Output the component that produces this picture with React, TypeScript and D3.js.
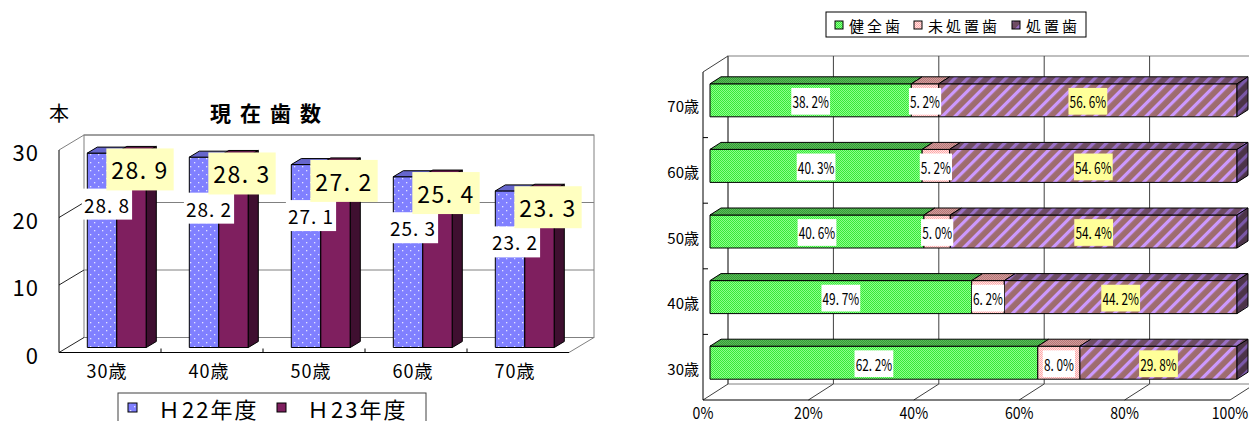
import React, { useEffect, useRef } from "react";
import * as d3 from "d3";

// ---- Left chart data (現在歯数) ----
const leftCategories = ["30歳", "40歳", "50歳", "60歳", "70歳"];
const seriesNames = ["Ｈ22年度", "Ｈ23年度"];
const h22Values = [28.8, 28.2, 27.1, 25.3, 23.2];
const h23Values = [28.9, 28.3, 27.2, 25.4, 23.3];
const leftTicks = [0, 10, 20, 30];

// ---- Right chart data (100% stacked) ----
const rightCategories = ["70歳", "60歳", "50歳", "40歳", "30歳"];
const stackNames = ["健全歯", "未処置歯", "処置歯"];
const healthyValues = [38.2, 40.3, 40.6, 49.7, 62.2];
const untreatedValues = [5.2, 5.2, 5.0, 6.2, 8.0];
const treatedValues = [56.6, 54.6, 54.4, 44.2, 29.8];
const pctTicks = [0, 20, 40, 60, 80, 100];

const FONT = "'Noto Sans CJK JP', 'Noto Sans', sans-serif";

function fmt(v: number) {
  return v.toFixed(1).replace(".", ". ");
}

export default function App() {
  const ref = useRef<SVGSVGElement>(null);

  useEffect(() => {
    const svg = d3.select(ref.current!);
    svg.selectAll("*").remove();
    const defs = svg.append("defs");

    const checker = (id: string, base: string, dot: string) => {
      const p = defs.append("pattern").attr("id", id).attr("width", 2).attr("height", 2).attr("patternUnits", "userSpaceOnUse");
      p.append("rect").attr("width", 2).attr("height", 2).attr("fill", base);
      p.append("rect").attr("width", 1).attr("height", 1).attr("fill", dot);
      p.append("rect").attr("x", 1).attr("y", 1).attr("width", 1).attr("height", 1).attr("fill", dot);
    };
    const stripes = (id: string, base: string, stripe: string) => {
      const p = defs.append("pattern").attr("id", id).attr("width", 9).attr("height", 9)
        .attr("patternUnits", "userSpaceOnUse").attr("patternTransform", "rotate(45)");
      p.append("rect").attr("width", 9).attr("height", 9).attr("fill", base);
      p.append("rect").attr("width", 3.2).attr("height", 9).attr("fill", stripe);
    };
    const dots = (id: string, base: string, dot: string) => {
      const p = defs.append("pattern").attr("id", id).attr("width", 8).attr("height", 8).attr("patternUnits", "userSpaceOnUse");
      p.append("rect").attr("width", 8).attr("height", 8).attr("fill", base);
      p.append("rect").attr("x", 2).attr("y", 2).attr("width", 1.3).attr("height", 1.3).attr("fill", dot);
      p.append("rect").attr("x", 6).attr("y", 6).attr("width", 1.3).attr("height", 1.3).attr("fill", dot);
    };
    checker("gFront", "#8CFF8C", "#38E838");
    checker("gTop", "#58C058", "#389838");
    checker("pFront", "#FFE4E4", "#FFA8A8");
    checker("pTop", "#D49C9C", "#B47878");
    stripes("tFront", "#9E6C6E", "#CC99FF");
    stripes("tTop", "#6E4C62", "#9A70C8");
    stripes("tSide", "#4C3448", "#7A58A8");
    dots("bFront", "#8080FF", "#E4E4FF");

    const addLabel = (
      parent: d3.Selection<any, unknown, null, undefined>,
      x: number, y: number, text: string, size: number, bg: string,
      padX: number, padY: number, sx = 1, ls = 0
    ) => {
      const g = parent.append("g").attr("transform", `translate(${x},${y}) scale(${sx},1)`);
      const r = g.append("rect").attr("fill", bg);
      const t = g.append("text").attr("x", 0).attr("y", 0).attr("text-anchor", "middle")
        .attr("dominant-baseline", "central").attr("font-family", FONT).attr("font-size", size)
        .attr("letter-spacing", ls).style("white-space", "pre")
        .attr("fill", "#000").text(text);
      const bb = (t.node() as SVGTextElement).getBBox();
      r.attr("x", bb.x - padX).attr("y", bb.y - padY + 1).attr("width", bb.width + 2 * padX).attr("height", bb.height + 2 * padY - 2);
    };

    const poly = (parent: any, pts: number[][], fill: string, stroke = "#000") =>
      parent.append("polygon").attr("points", pts.map((p) => p.join(",")).join(" "))
        .attr("fill", fill).attr("stroke", stroke).attr("stroke-width", 1).attr("stroke-linejoin", "round");
    const line = (parent: any, x1: number, y1: number, x2: number, y2: number, stroke: string) =>
      parent.append("line").attr("x1", x1).attr("y1", y1).attr("x2", x2).attr("y2", y2)
        .attr("stroke", stroke).attr("stroke-width", 1);

    // ================= LEFT CHART =================
    const L = svg.append("g");
    const xL = d3.scaleBand<string>().domain(leftCategories).range([59, 569]);
    const yL = d3.scaleLinear().domain([0, 30]).range([352.5, 150]);
    const DL = { x: 25, y: -15 };
    const BF = { x: 8.3, y: -5 };
    const BD = { x: 10, y: -6 };
    const groupW = 59;
    const xInner = d3.scaleBand<string>().domain(seriesNames).range([0, groupW]);
    const x0 = xL.range()[0], x1 = xL.range()[1];
    const y0 = yL(0), yTop = yL(30);

    // back wall
    L.append("rect").attr("x", x0 + DL.x).attr("y", yTop + DL.y).attr("width", x1 - x0).attr("height", y0 - yTop)
      .attr("fill", "#fff").attr("stroke", "#808080");
    leftTicks.forEach((t) => {
      line(L, x0 + DL.x, yL(t) + DL.y, x1 + DL.x, yL(t) + DL.y, "#808080");
      line(L, x0, yL(t), x0 + DL.x, yL(t) + DL.y, t === 30 ? "#808080" : "#222");
    });
    // floor
    line(L, x1, y0, x1 + DL.x, y0 + DL.y, "#808080");
    line(L, x0, y0, x1, y0, "#000");
    line(L, x0, yTop, x0, y0, "#000");
    leftCategories.forEach((c, i) => {
      if (i > 0) line(L, xL(c)!, y0, xL(c)!, y0 - 4, "#000");
    });

    // bars
    const leftSeries = [
      { name: seriesNames[0], values: h22Values, front: "url(#bFront)", top: "#6666CC", side: "#4C4CA8" },
      { name: seriesNames[1], values: h23Values, front: "#7F1F5F", top: "#5E1746", side: "#3F0F30" },
    ];
    leftCategories.forEach((c, i) => {
      const gx = xL(c)! + xL.bandwidth() / 2 + BF.x - groupW / 2 - 1.5;
      leftSeries.forEach((s) => {
        const bx = gx + xInner(s.name)!;
        const w = xInner.bandwidth();
        const ty = yL(s.values[i]) + BF.y;
        const by = y0 + BF.y;
        poly(L, [[bx, ty], [bx + w, ty], [bx + w, by], [bx, by]], s.front);
        poly(L, [[bx, ty], [bx + w, ty], [bx + w + BD.x, ty + BD.y], [bx + BD.x, ty + BD.y]], s.top);
        poly(L, [[bx + w, ty], [bx + w + BD.x, ty + BD.y], [bx + w + BD.x, by + BD.y], [bx + w, by]], s.side);
      });
    });
    // data labels
    leftCategories.forEach((c, i) => {
      const cx = xL(c)! + xL.bandwidth() / 2;
      addLabel(L, cx - 3, yL(h22Values[i]) + 46, fmt(h22Values[i]), 19, "#ffffff", 2, 3, 1, 1);
      addLabel(L, cx + 30, yL(h23Values[i]) + 12, fmt(h23Values[i]), 23, "#FFFFC0", 5, 5, 1, 1.5);
    });

    // y tick labels
    leftTicks.forEach((t) => {
      L.append("text").attr("x", 39).attr("y", yL(t) + 1).attr("text-anchor", "end").attr("dominant-baseline", "central")
        .attr("font-family", FONT).attr("font-size", 22).attr("letter-spacing", 1).text(String(t));
    });
    // x labels
    leftCategories.forEach((c) => {
      L.append("text").attr("x", xL(c)! + xL.bandwidth() / 2 - 3).attr("y", 370).attr("text-anchor", "middle")
        .attr("dominant-baseline", "central").attr("font-family", FONT).attr("font-size", 18)
        .attr("letter-spacing", 1).text(c);
    });
    // title and unit
    L.append("text").attr("x", 210).attr("y", 112).attr("dominant-baseline", "central").attr("font-family", FONT)
      .attr("font-size", 21).attr("font-weight", "bold").attr("letter-spacing", 9).text("現在歯数");
    L.append("text").attr("x", 59).attr("y", 112).attr("text-anchor", "middle").attr("dominant-baseline", "central")
      .attr("font-family", FONT).attr("font-size", 20).text("本");

    // legend
    L.append("rect").attr("x", 118).attr("y", 393).attr("width", 308).attr("height", 40)
      .attr("fill", "#fff").attr("stroke", "#404040");
    const legL = [
      { name: seriesNames[0], fill: "url(#bFront)", x: 128 },
      { name: seriesNames[1], fill: "#7F1F5F", x: 277 },
    ];
    legL.forEach((d) => {
      L.append("rect").attr("x", d.x).attr("y", 403).attr("width", 9).attr("height", 9).attr("fill", d.fill).attr("stroke", "#000");
      L.append("text").attr("x", d.x + 30).attr("y", 408).attr("dominant-baseline", "central").attr("font-family", FONT)
        .attr("font-size", 22).attr("letter-spacing", 2).text(d.name);
    });

    // ================= RIGHT CHART =================
    const R = svg.append("g");
    const xR = d3.scaleLinear().domain([0, 100]).range([703, 1230]);
    const yR = d3.scaleBand<string>().domain(rightCategories).range([72, 400]);
    const DR = { x: 25, y: -16 };
    const RF = { x: 7, y: -4.5 };
    const RB = { x: 11, y: -7 };
    const barH = 33;
    const rx0 = xR(0), rx1 = xR(100);
    const ry0 = yR.range()[0], ry1 = yR.range()[1];

    // back wall
    R.append("rect").attr("x", rx0 + DR.x).attr("y", ry0 + DR.y).attr("width", rx1 - rx0).attr("height", ry1 - ry0)
      .attr("fill", "#fff").attr("stroke", "#808080");
    pctTicks.forEach((t) => {
      line(R, xR(t) + DR.x, ry0 + DR.y, xR(t) + DR.x, ry1 + DR.y, "#404040");
      line(R, xR(t), ry1, xR(t) + DR.x, ry1 + DR.y, "#404040");
    });
    line(R, rx0, ry0, rx0 + DR.x, ry0 + DR.y, "#404040");
    line(R, rx0, ry0, rx0, ry1, "#000");
    line(R, rx0, ry1, rx1, ry1, "#000");
    rightCategories.forEach((c, i) => {
      if (i > 0) line(R, rx0, yR(c)!, rx0 + 5, yR(c)!, "#000");
    });

    const stackSeries = [
      { name: stackNames[0], values: healthyValues, front: "url(#gFront)", top: "url(#gTop)", side: "#2E8A2E", bg: "#ffffff" },
      { name: stackNames[1], values: untreatedValues, front: "url(#pFront)", top: "url(#pTop)", side: "#A06868", bg: "#ffffff" },
      { name: stackNames[2], values: treatedValues, front: "url(#tFront)", top: "url(#tTop)", side: "url(#tSide)", bg: "#FFFF99" },
    ];
    const labelsToDraw: { x: number; y: number; t: string; bg: string }[] = [];
    rightCategories.forEach((c, i) => {
      const total = d3.sum(stackSeries, (s) => s.values[i]);
      const yc = yR(c)! + yR.bandwidth() / 2 + RF.y;
      const ty = yc - barH / 2, by = yc + barH / 2;
      let acc = 0;
      stackSeries.forEach((s, si) => {
        const v = s.values[i];
        const a = xR((acc / total) * 100) + RF.x;
        acc += v;
        const b = xR((acc / total) * 100) + RF.x;
        poly(R, [[a, ty], [b, ty], [b, by], [a, by]], s.front);
        poly(R, [[a, ty], [b, ty], [b + RB.x, ty + RB.y], [a + RB.x, ty + RB.y]], s.top);
        if (si === stackSeries.length - 1) {
          poly(R, [[b, ty], [b + RB.x, ty + RB.y], [b + RB.x, by + RB.y], [b, by]], s.side);
        }
        labelsToDraw.push({ x: (a + b) / 2, y: yc + 1, t: fmt(v) + "%", bg: s.bg });
      });
    });
    labelsToDraw.forEach((l) => addLabel(R, l.x, l.y, l.t, 16, l.bg, 1.5, 3, 0.74));

    // category labels
    rightCategories.forEach((c) => {
      R.append("text").attr("x", 699).attr("y", yR(c)! + yR.bandwidth() / 2 + 1).attr("text-anchor", "end")
        .attr("dominant-baseline", "central").attr("font-family", FONT).attr("font-size", 15).text(c);
    });
    // x tick labels
    pctTicks.forEach((t) => {
      const g = R.append("g").attr("transform", `translate(${xR(t)},412) scale(0.88,1)`);
      g.append("text").attr("text-anchor", "middle").attr("dominant-baseline", "central")
        .attr("font-family", FONT).attr("font-size", 16).text(`${t}%`);
    });

    // legend
    R.append("rect").attr("x", 826).attr("y", 12).attr("width", 260).attr("height", 25)
      .attr("fill", "#fff").attr("stroke", "#000");
    const legR = [
      { name: stackNames[0], fill: "url(#gFront)", x: 835 },
      { name: stackNames[1], fill: "url(#pFront)", x: 914 },
      { name: stackNames[2], fill: "url(#tTop)", x: 1012 },
    ];
    legR.forEach((d) => {
      R.append("rect").attr("x", d.x).attr("y", 21).attr("width", 8).attr("height", 8).attr("fill", d.fill).attr("stroke", "#000");
      R.append("text").attr("x", d.x + 14).attr("y", 25).attr("dominant-baseline", "central").attr("font-family", FONT)
        .attr("font-size", 15).attr("letter-spacing", 3).text(d.name);
    });
  }, []);

  return (
    <svg
      ref={ref}
      width={1249}
      height={421}
      style={{ position: "absolute", left: 0, top: 0, background: "#fff" }}
    />
  );
}
